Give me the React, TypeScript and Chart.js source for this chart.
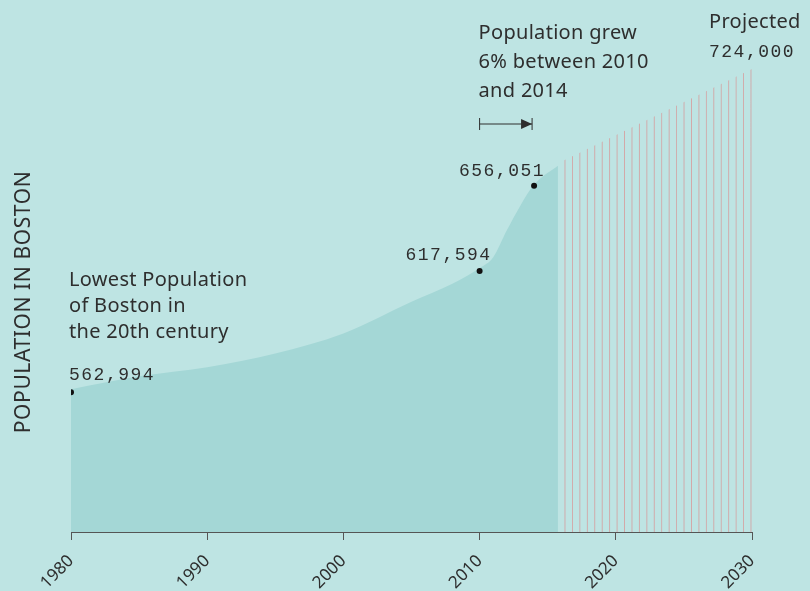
import { useEffect, useRef } from 'react';
import { Chart, registerables } from 'chart.js';

Chart.register(...registerables);

// ---- data ----
const popYears = [1980, 1985, 1990, 1995, 2000, 2005, 2008, 2010, 2011, 2012, 2013, 2014, 2015.75];
const popValues = [564400, 570200, 574300, 580500, 589500, 603800, 611900, 619000, 623900, 636000, 647200, 656600, 665100];
const markerYears = [1980, 2010, 2014];
const markerValues = [562994, 617594, 656051];
const markerLabels = ['562,994', '617,594', '656,051'];
const projYears = [2015.75, 2030];
const projValues = [666200, 708700];
const projLabel = ['Projected', '724,000'];
const lowestNote = ['Lowest Population', 'of Boston in', 'the 20th century'];
const growthNote = ['Population grew', '6% between 2010', 'and 2014'];
const growthSpan = [2010, 2014];
const xTicks = [1980, 1990, 2000, 2010, 2020, 2030];
const yTitle = 'POPULATION IN BOSTON';

const BG = '#bee4e3';
const FILL = '#a4d7d6';
const TEXT = '#2e2e2e';
const SANS = '"Noto Sans", sans-serif';
const MONO = '"Liberation Mono", monospace';

function makeHatch(ctx: CanvasRenderingContext2D): CanvasPattern | string {
  const tile = document.createElement('canvas');
  tile.width = 8;
  tile.height = 4;
  const t = tile.getContext('2d')!;
  t.fillStyle = 'rgba(212,162,162,0.9)';
  t.fillRect(0, 0, 1, 4);
  const p = ctx.createPattern(tile, 'repeat');
  if (!p) return 'rgba(214,160,160,0.3)';
  const m = new DOMMatrix().translate(564.5, 0).scale(7.44 / 8, 1);
  p.setTransform(m);
  return p;
}

const annotations = {
  id: 'annotations',
  beforeDraw(chart: any) {
    const c = chart.ctx;
    c.save();
    c.fillStyle = BG;
    c.fillRect(0, 0, chart.width, chart.height);
    c.restore();
  },
  afterDatasetsDraw(chart: any) {
    const c: CanvasRenderingContext2D = chart.ctx;
    const xs = chart.scales.x;
    const ys = chart.scales.y;
    c.save();
    c.fillStyle = TEXT;
    c.strokeStyle = TEXT;
    c.textBaseline = 'alphabetic';

    // marker labels
    c.font = `18px ${MONO}`;
    (c as any).letterSpacing = '1.5px';
    const mp = markerYears.map((yr, i) => ({ x: xs.getPixelForValue(yr), y: ys.getPixelForValue(markerValues[i]) }));
    c.textAlign = 'left';
    c.fillText(markerLabels[0], mp[0].x - 2, mp[0].y - 12);
    c.textAlign = 'right';
    c.fillText(markerLabels[1], mp[1].x + 12, mp[1].y - 11);
    c.fillText(markerLabels[2], mp[2].x + 11, mp[2].y - 10);

    // projected
    const x2030 = xs.getPixelForValue(2030);
    c.textAlign = 'left';
    c.fillText(projLabel[1], x2030 - 43, 57);
    (c as any).letterSpacing = '0.3px';
    c.font = `20px ${SANS}`;
    c.fillText(projLabel[0], x2030 - 43, 28);

    // lowest note
    lowestNote.forEach((l, i) => c.fillText(l, mp[0].x - 2, 286 + i * 26));

    // growth note
    const gx0 = xs.getPixelForValue(growthSpan[0]);
    const gx1 = xs.getPixelForValue(growthSpan[1]);
    growthNote.forEach((l, i) => c.fillText(l, gx0 - 1, 39 + i * 29));
    (c as any).letterSpacing = '0px';

    // arrow
    const ay = 124;
    c.lineWidth = 1;
    c.beginPath();
    c.moveTo(gx0, ay);
    c.lineTo(gx1 - 2, ay);
    c.moveTo(gx0, ay - 6);
    c.lineTo(gx0, ay + 6);
    c.moveTo(gx1 - 2, ay - 6);
    c.lineTo(gx1 - 2, ay + 6);
    c.stroke();
    c.beginPath();
    c.moveTo(gx1 - 2, ay);
    c.lineTo(gx1 - 13, ay - 5);
    c.lineTo(gx1 - 13, ay + 5);
    c.closePath();
    c.fill();

    // y title
    c.save();
    c.translate(24, 302);
    c.rotate(-Math.PI / 2);
    c.textAlign = 'center';
    c.textBaseline = 'middle';
    c.font = `21px ${SANS}`;
    (c as any).letterSpacing = '0.6px';
    c.fillText(yTitle, 0, 0);
    c.restore();

    c.restore();
  },
};

export default function App() {
  const ref = useRef<HTMLCanvasElement | null>(null);
  useEffect(() => {
    document.body.style.margin = '0';
    document.body.style.background = BG;
    const canvas = ref.current!;
    const ctx = canvas.getContext('2d')!;
    const hatch = makeHatch(ctx);
    const chart = new Chart(ctx, {
      type: 'line',
      data: {
        datasets: [
          {
            data: markerYears.map((x, i) => ({ x, y: markerValues[i] })),
            showLine: false,
            pointRadius: 3,
            pointBackgroundColor: '#111',
            pointBorderWidth: 0,
            order: 0,
          },
          {
            data: popYears.map((x, i) => ({ x, y: popValues[i] })),
            fill: 'start',
            backgroundColor: FILL,
            borderWidth: 0,
            pointRadius: 0,
            cubicInterpolationMode: 'monotone',
            order: 2,
          },
          {
            data: projYears.map((x, i) => ({ x, y: projValues[i] })),
            fill: 'start',
            backgroundColor: hatch as any,
            borderWidth: 0,
            pointRadius: 0,
            order: 3,
          },
        ],
      },
      options: {
        animation: false,
        responsive: false,
        events: [],
        layout: { padding: { left: 71, right: 58, top: 0, bottom: 0 } },
        plugins: { legend: { display: false }, tooltip: { enabled: false } },
        scales: {
          x: {
            type: 'linear',
            min: 1980,
            max: 2030,
            afterBuildTicks: (s: any) => {
              s.ticks = xTicks.map((v) => ({ value: v }));
            },
            afterFit: (s: any) => {
              s.height = 59;
            },
            ticks: {
              minRotation: 45,
              maxRotation: 45,
              padding: 11,
              color: TEXT,
              font: { family: SANS, size: 17 },
              callback: (v: any) => String(v),
            },
            grid: { display: true, drawOnChartArea: false, drawTicks: true, tickLength: 8, color: '#555' },
            border: { display: true, color: '#555', width: 1 },
          },
          y: {
            display: false,
            min: 500000,
            max: 738000,
          },
        },
      },
      plugins: [annotations],
    });
    return () => chart.destroy();
  }, []);
  return (
    <div style={{ width: 810, height: 591, background: BG }}>
      <canvas ref={ref} width={810} height={591} />
    </div>
  );
}
